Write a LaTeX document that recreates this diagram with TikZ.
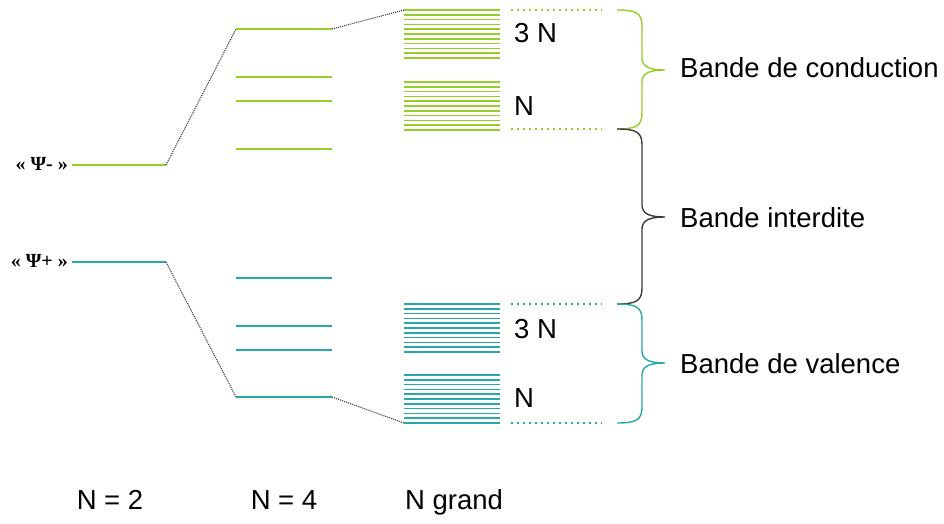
\documentclass[tikz,border=0pt]{standalone}
\usepackage{fontspec}
\setmainfont{Liberation Sans}
\newfontfamily\psifont{Liberation Serif}
\usetikzlibrary{positioning}
\definecolor{vert}{RGB}{150,205,40}
\definecolor{bleu}{RGB}{40,168,166}
\definecolor{gris}{RGB}{60,60,60}
\tikzstyle{niveau}=[line width=1.7pt]
\tikzstyle{bande}=[line width=1.6pt]
\tikzstyle{pointille}=[line width=2.2pt, dash pattern=on 2.2pt off 3.8pt]
\tikzstyle{liaison}=[densely dotted, line width=1.1pt, black!75]
\tikzstyle{accolade}=[line width=1.4pt]
\tikzstyle{texte}=[inner sep=0pt, font=\fontsize{27.5}{30}\selectfont]
\tikzstyle{psi}=[inner sep=0pt, font=\psifont\bfseries\fontsize{20}{23}\selectfont]
\newcommand{\paquet}[2]{\foreach \i in {0,...,10} \draw[bande,#1] (404,#2+4.8*\i) -- (500,#2+4.8*\i);}
\newcommand{\accolade}[4]{\draw[accolade,#1] (617,#2) .. controls (636,#2) and (642,#2+3) .. (642,#2+16) -- (642,#3-12) .. controls (642,#3-3) and (650,#3) .. (665,#3) .. controls (650,#3) and (642,#3+3) .. (642,#3+12) -- (642,#4-16) .. controls (642,#4-3) and (636,#4) .. (617,#4);}

\begin{document}
\begin{tikzpicture}[x=1pt, y=-1pt]
            \useasboundingbox (0,0) rectangle (944,524);
            \node[psi, anchor=base east] (psimoins) at (68,170) {« Ψ- »};
            \node[psi, anchor=base east] (psiplus) at (68,267) {« Ψ+ »};
            \draw[niveau,vert] (72,165) coordinate (m1) -- (166,165) coordinate (m2);
            \draw[niveau,bleu] (72,262) coordinate (p1) -- (166,262) coordinate (p2);
            \draw[niveau,vert] (236,29) coordinate (a1) -- (332,29) coordinate (a2);
            \draw[niveau,vert] (236,77) -- (332,77);
            \draw[niveau,vert] (236,101) -- (332,101);
            \draw[niveau,vert] (236,149) -- (332,149);
            \draw[niveau,bleu] (236,278) -- (332,278);
            \draw[niveau,bleu] (236,326) -- (332,326);
            \draw[niveau,bleu] (236,350) -- (332,350);
            \draw[niveau,bleu] (236,397) coordinate (b1) -- (332,397) coordinate (b2);
            \paquet{vert}{10}
            \paquet{vert}{82}
            \paquet{bleu}{304}
            \paquet{bleu}{375}
            \coordinate (c1) at (404,10);
            \coordinate (c2) at (404,423);
            \draw[liaison] (m2) -- (a1);
            \draw[liaison] (a2) -- (c1);
            \draw[liaison] (p2) -- (b1);
            \draw[liaison] (b2) -- (c2);
            \draw[pointille,vert] (511,10) -- (602,10);
            \draw[pointille,vert] (511,129) -- (602,129);
            \draw[pointille,bleu] (511,304) -- (602,304);
            \draw[pointille,bleu] (511,423) -- (602,423);
            \node[texte, anchor=base west] (v3n) at (514,43) {3 N};
            \node[texte, anchor=base west] (vn) at (514,115) {N};
            \node[texte, anchor=base west] (b3n) at (514,338) {3 N};
            \node[texte, anchor=base west] (bn) at (514,407) {N};
            \accolade{vert}{10}{70}{129}
            \accolade{gris}{129}{217}{304}
            \accolade{bleu}{304}{363}{423}
            \node[texte, anchor=base west] (conduction) at (680,78) {Bande de conduction};
            \node[texte, anchor=base west] (interdite) at (680,227) {Bande interdite};
            \node[texte, anchor=base west] (valence) at (680,373) {Bande de valence};
            \node[texte, anchor=base] (n2) at (110,509) {N = 2};
            \node[texte, anchor=base] (n4) at (284,509) {N = 4};
            \node[texte, anchor=base west] (ngrand) at (405,509) {N grand};
        \end{tikzpicture}
\end{document}
